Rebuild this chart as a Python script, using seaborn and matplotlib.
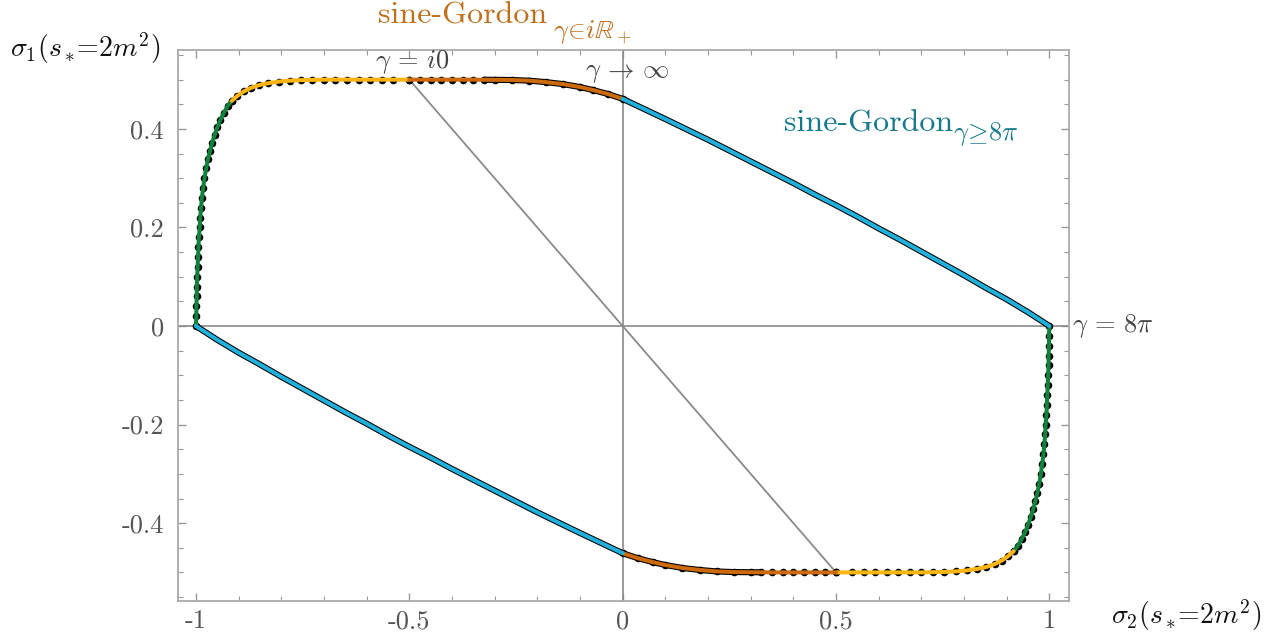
import numpy as np
import pandas as pd
import seaborn as sns
from matplotlib import pyplot as plt
from matplotlib.ticker import MultipleLocator, FixedLocator, FixedFormatter

# upper half of the boundary, from (-1, 0) going over the top to (1, 0)
# (lower half is the point reflection (x, y) -> (-x, -y))
green_x = [-1.000, -0.999, -0.999, -0.998, -0.998, -0.997, -0.996, -0.995, -0.994, -0.993,
           -0.991, -0.990, -0.988, -0.986, -0.983, -0.980, -0.976, -0.972, -0.967, -0.962,
           -0.956, -0.950, -0.943, -0.935, -0.926, -0.916]
green_y = [0.000, 0.020, 0.040, 0.060, 0.080, 0.100, 0.120, 0.140, 0.160, 0.180,
           0.200, 0.220, 0.240, 0.260, 0.280, 0.300, 0.320, 0.338, 0.355, 0.372,
           0.388, 0.403, 0.418, 0.432, 0.446, 0.457]

yellow_x = [-0.916, -0.903, -0.888, -0.872, -0.852, -0.830, -0.806, -0.780, -0.754, -0.727,
            -0.700, -0.673, -0.646, -0.619, -0.592, -0.565, -0.538, -0.500]
yellow_y = [0.457, 0.467, 0.476, 0.483, 0.489, 0.493, 0.496, 0.498, 0.499, 0.4995,
            0.500, 0.500, 0.500, 0.500, 0.500, 0.500, 0.500, 0.500]

orange_x = [-0.500, -0.475, -0.450, -0.425, -0.400, -0.375, -0.350, -0.325, -0.300, -0.260,
            -0.220, -0.180, -0.140, -0.100, -0.070, -0.035, 0.000]
orange_y = [0.500, 0.500, 0.500, 0.500, 0.500, 0.500, 0.500, 0.4998, 0.4996, 0.4993,
            0.498, 0.495, 0.491, 0.485, 0.479, 0.471, 0.461]

blue_x = [0.00, 0.05, 0.10, 0.15, 0.20, 0.25, 0.30, 0.35, 0.40, 0.45, 0.50,
          0.55, 0.60, 0.65, 0.70, 0.75, 0.80, 0.85, 0.90, 0.95, 1.00]
blue_y = [0.461, 0.4405, 0.420, 0.399, 0.378, 0.356, 0.334, 0.312, 0.290, 0.267, 0.245,
          0.222, 0.198, 0.175, 0.151, 0.127, 0.103, 0.078, 0.054, 0.028, 0.000]

segments = {
    'green': (green_x, green_y, '#11823b'),
    'yellow': (yellow_x, yellow_y, '#fdb515'),
    'orange': (orange_x, orange_y, '#cc6a0c'),
    'blue': (blue_x, blue_y, '#1fb0dc'),
}

rows = []
for name, (xs, ys, col) in segments.items():
    for half, sgn in (('top', 1), ('bottom', -1)):
        for i, (x, y) in enumerate(zip(xs, ys)):
            rows.append(dict(seg=name, half=half, i=i, s2=sgn * x, s1=sgn * y))
df = pd.DataFrame(rows)

sns.set_style('ticks')
plt.rcParams['font.family'] = ['cmr10', 'DejaVu Serif']
plt.rcParams['mathtext.fontset'] = 'cm'
plt.rcParams['axes.unicode_minus'] = False

fig = plt.figure(figsize=(12.76, 6.38), dpi=100)
ax = fig.add_axes([0.1395, 0.058, 0.698, 0.8635])

gray = '#8a8a8a'
ax.axhline(0, color=gray, lw=1.2, zorder=1)
ax.axvline(0, color=gray, lw=1.2, zorder=1)
ax.plot([-0.5, 0.5], [0.5, -0.5], color=gray, lw=1.3, zorder=1)

# dense black sample points look like an outline on orange / blue parts
for name in ('orange', 'blue'):
    for half in ('top', 'bottom'):
        d = df[(df.seg == name) & (df.half == half)]
        if name == 'orange':
            d = d[d.i >= 7]
        sns.lineplot(data=d, x='s2', y='s1', sort=False, estimator=None,
                     color='black', lw=4.4, ax=ax, zorder=2)

sns.scatterplot(data=df[df.seg.isin(['green', 'yellow', 'orange'])], x='s2', y='s1',
                color='black', s=30, linewidth=0, ax=ax, zorder=3, legend=False)

for name, (xs, ys, col) in segments.items():
    for half in ('top', 'bottom'):
        d = df[(df.seg == name) & (df.half == half)]
        sns.lineplot(data=d, x='s2', y='s1', sort=False, estimator=None,
                     color=col, lw=2.9, ax=ax, zorder=4)

ax.set_xlim(-1.042, 1.045)
ax.set_ylim(-0.558, 0.560)
ax.set_xlabel('')
ax.set_ylabel('')

xt = [-1, -0.5, 0, 0.5, 1]
yt = [-0.4, -0.2, 0, 0.2, 0.4]
ax.xaxis.set_major_locator(FixedLocator(xt))
ax.xaxis.set_major_formatter(FixedFormatter(['-1', '-0.5', '0', '0.5', '1']))
ax.yaxis.set_major_locator(FixedLocator(yt))
ax.yaxis.set_major_formatter(FixedFormatter(['-0.4', '-0.2', '0', '0.2', '0.4']))
ax.xaxis.set_minor_locator(MultipleLocator(0.1))
ax.yaxis.set_minor_locator(MultipleLocator(0.05))
ax.tick_params(which='both', direction='in', top=True, right=True, color='#999999',
               labelcolor='#555555', labelsize=19)
ax.tick_params(which='major', length=6, width=1)
ax.tick_params(which='minor', length=3.5, width=0.8)
ax.tick_params(axis='y', pad=10)
ax.tick_params(axis='x', pad=6)
for sp in ax.spines.values():
    sp.set_color('#aaaaaa')
    sp.set_linewidth(1.3)

fig.text(0.008, 0.925, r'$\sigma_1(s_*\!\!=\!2m^2)$', fontsize=20, color='#111111', va='center')
fig.text(0.871, 0.036, r'$\sigma_2(s_*\!\!=\!2m^2)$', fontsize=20, color='#111111', va='center')

orange_txt = '#c0701c'
fig.text(0.296, 0.975, 'sine-Gordon', fontsize=23, color=orange_txt, va='center')
fig.text(0.433, 0.950, r'$\gamma\!\in\! i\mathbb{R}_+$', fontsize=19, color=orange_txt, va='center')

blue_txt = '#17798e'
ax.text(0.378, 0.41, 'sine-Gordon', fontsize=23, color=blue_txt, va='center')
ax.text(0.774, 0.39, r'$\gamma\!\geq\! 8\pi$', fontsize=19, color=blue_txt, va='center')

ax.text(-0.494, 0.536, r'$\gamma\,=\,i0$', fontsize=19, color='#444444', ha='center', va='center')
ax.text(0.01, 0.514, r'$\gamma\,\to\,\infty$', fontsize=19, color='#444444', ha='center', va='center')
ax.text(1.052, 0.0, r'$\gamma\,=\,8\pi$', fontsize=19, color='#444444', ha='left', va='center',
        clip_on=False)

fig.savefig('out.png', dpi=100)
